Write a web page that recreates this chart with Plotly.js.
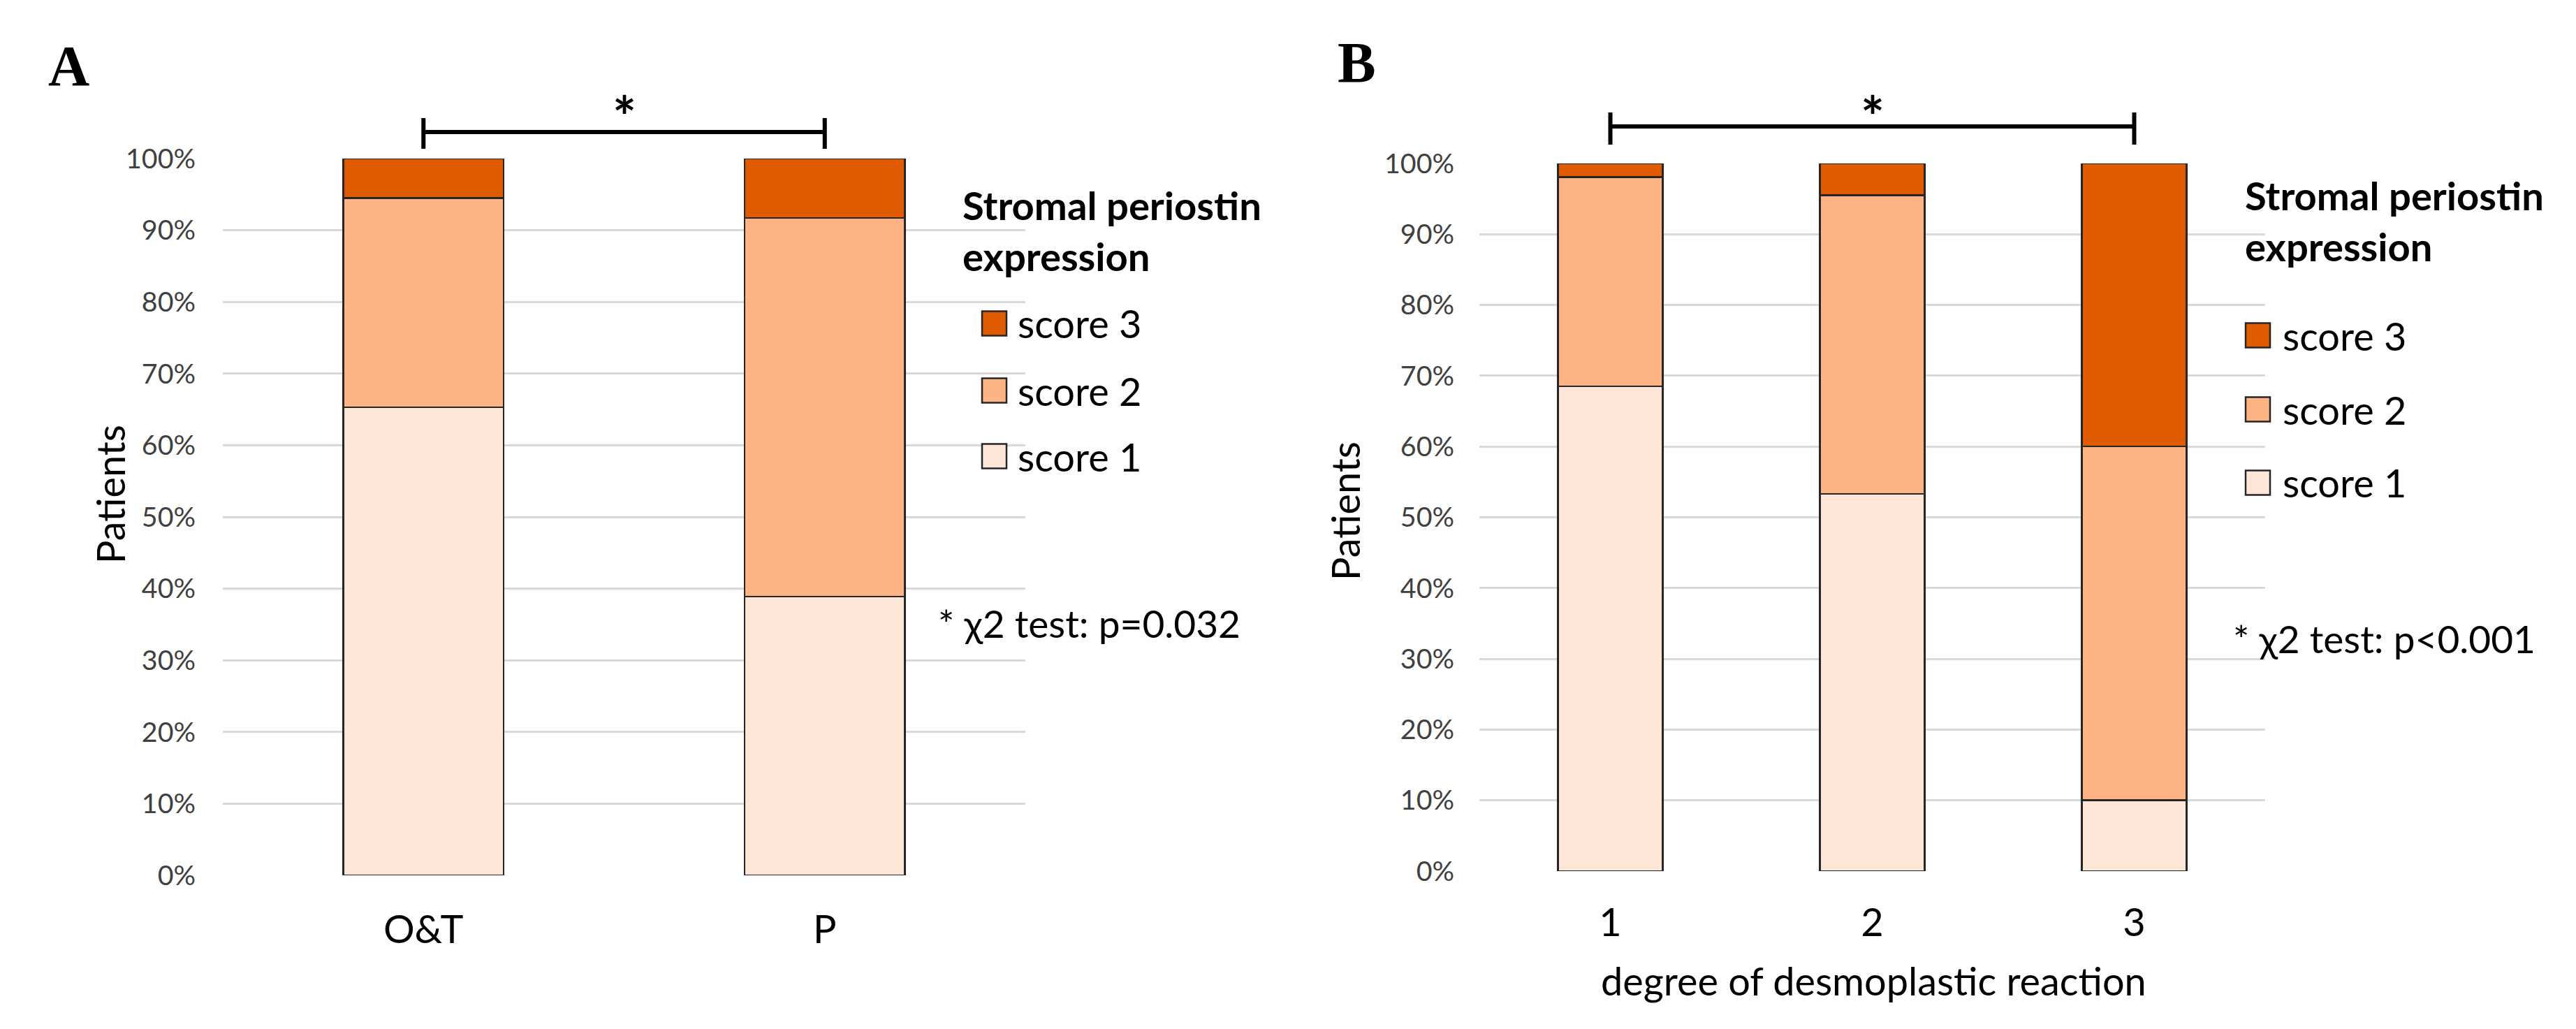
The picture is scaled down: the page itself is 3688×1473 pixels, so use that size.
<!DOCTYPE html>
<html>
<head>
<meta charset="utf-8">
<script src="https://cdn.plot.ly/plotly-3.0.1.min.js"></script>
<style>html,body{margin:0;padding:0;background:#fff;}#chart{width:3688px;height:1473px;}</style>
</head>
<body>
<div id="chart"></div>
<script>
// ---------------- data ----------------
const catsA = ['O&T', 'P'];
const catsB = ['1', '2', '3'];
const seriesNames = ['score 1', 'score 2', 'score 3'];
const score1A = [65.3, 38.9];
const score2A = [29.2, 52.8];
const score3A = [5.5, 8.3];
const score1B = [68.5, 53.3, 10.0];
const score2B = [29.6, 42.2, 50.0];
const score3B = [1.9, 4.5, 40.0];
const yTicks = [0, 10, 20, 30, 40, 50, 60, 70, 80, 90, 100];
const legendTitle = 'Stromal periostin<br>expression';
const pTextA = '* \u03C72 test: p=0.032';
const pTextB = '* \u03C72 test: p<0.001';
const yTitle = 'Patients';
const xTitleB = 'degree of desmoplastic reaction';

// ---------------- style ----------------
const seriesColors = ['#FDE6D7', '#FDB384', '#E05A00'];
const FONT = 'Lato, "Open Sans", sans-serif';
const W = 3688, H = 1473;
const X = p => p / W;
const Y = p => 1 - p / H;

const ctx = document.createElement('canvas').getContext('2d');
function fit(text, weight, target) {
  ctx.font = weight + ' 100px ' + FONT;
  return 100 * target / ctx.measureText(text).width;
}
const S = fit(xTitleB, 'normal', 782);
const SB = fit('Stromal periostin', 'bold', 428);
const T = fit('100%', 'normal', 100);
const SP = fit(pTextA, 'normal', 433);

const dataA = [score1A, score2A, score3A];
const dataB = [score1B, score2B, score3B];

const traces = [];
dataA.forEach((vals, i) => traces.push({
  type: 'bar', x: catsA, y: vals, name: seriesNames[i], xaxis: 'x', yaxis: 'y',
  marker: {color: seriesColors[i], line: {color: '#262626', width: 2.5}}, showlegend: false
}));
dataB.forEach((vals, i) => traces.push({
  type: 'bar', x: catsB, y: vals, name: seriesNames[i], xaxis: 'x2', yaxis: 'y2',
  marker: {color: seriesColors[i], line: {color: '#262626', width: 2.5}}, showlegend: false
}));

const yaxisBase = {
  range: [0, 100], tickvals: yTicks, ticktext: yTicks.map(v => v + '%'),
  showgrid: true, gridcolor: '#d9d9d9', gridwidth: 3, zeroline: false, showline: false,
  ticks: '', tickfont: {family: FONT, size: T, color: '#404040'}, fixedrange: true
};
const xaxisBase = {
  type: 'category', showgrid: false, zeroline: false, showline: false, ticks: '',
  tickfont: {family: FONT, size: S, color: '#000'}, fixedrange: true
};

const annotations = [];
const shapes = [];
function txt(text, x, y, size, opts) {
  annotations.push(Object.assign({
    text: text, x: X(x), y: Y(y), xref: 'paper', yref: 'paper', showarrow: false,
    xanchor: 'left', yanchor: 'middle', align: 'left',
    font: {family: FONT, size: size, color: '#000'}
  }, opts || {}));
}
// panel letters
txt('<b>A</b>', 67, 95, 82, {font: {family: '"Liberation Serif", "Times New Roman", serif', size: 82, color: '#000'}});
txt('<b>B</b>', 1913, 89, 82, {font: {family: '"Liberation Serif", "Times New Roman", serif', size: 82, color: '#000'}});
// y titles
txt(yTitle, 157, 708, S, {textangle: -90, xanchor: 'center'});
txt(yTitle, 1925, 732, S, {textangle: -90, xanchor: 'center'});
// x title B
txt(xTitleB, 2682, 1403, S, {xanchor: 'center'});
// p-values
txt(pTextA, 1341, 892, SP);
txt(pTextB, 3195, 914, SP);

// legends (manual)
function legend(titleX, titleY, swX, textX, ys) {
  txt('<b>' + legendTitle + '</b>', titleX, titleY, SB);
  for (let k = 0; k < 3; k++) {
    const i = 2 - k; // score 3 first
    const yc = ys[k];
    shapes.push({type: 'rect', xref: 'paper', yref: 'paper',
      x0: X(swX), x1: X(swX + 35), y0: Y(yc + 17.5), y1: Y(yc - 17.5),
      fillcolor: seriesColors[i], line: {color: '#262626', width: 2.5}});
    txt(seriesNames[i], textX, yc, S);
  }
}
legend(1376, 330, 1406, 1455, [463, 559, 653]);
legend(3212, 316, 3215, 3266, [480, 586, 691]);

// significance brackets (data x, paper y)
function bracket(xref, i0, i1, yLine, yTop, yBot, starY) {
  shapes.push({type: 'line', xref: xref, yref: 'paper', x0: i0, x1: i1, y0: Y(yLine), y1: Y(yLine), line: {color: '#000', width: 6}});
  shapes.push({type: 'line', xref: xref, yref: 'paper', x0: i0, x1: i0, y0: Y(yTop), y1: Y(yBot), line: {color: '#000', width: 6}});
  shapes.push({type: 'line', xref: xref, yref: 'paper', x0: i1, x1: i1, y0: Y(yTop), y1: Y(yBot), line: {color: '#000', width: 6}});
  annotations.push({text: '<b>*</b>', xref: xref, yref: 'paper', x: (i0 + i1) / 2, y: Y(starY),
    showarrow: false, xanchor: 'center', yanchor: 'middle', font: {family: FONT, size: 80, color: '#000'}});
}
bracket('x', 0, catsA.length - 1, 189, 169, 213, 166);
bracket('x2', 0, catsB.length - 1, 181, 161, 207, 166);

const layout = {
  width: W, height: H, margin: {l: 0, r: 0, t: 0, b: 0},
  paper_bgcolor: '#fff', plot_bgcolor: '#fff',
  barmode: 'stack', bargap: 0.6, showlegend: false, hovermode: false,
  font: {family: FONT, size: S, color: '#000'},
  xaxis: Object.assign({}, xaxisBase, {domain: [X(319), X(1468)], anchor: 'y', ticklabelstandoff: 40}),
  yaxis: Object.assign({}, yaxisBase, {domain: [Y(1253), Y(227)], anchor: 'x', ticklabelstandoff: 38}),
  xaxis2: Object.assign({}, xaxisBase, {domain: [X(2118), X(3243)], anchor: 'y2', ticklabelstandoff: 36}),
  yaxis2: Object.assign({}, yaxisBase, {domain: [Y(1247), Y(234)], anchor: 'x2', ticklabelstandoff: 35}),
  annotations: annotations, shapes: shapes
};

Plotly.newPlot('chart', traces, layout, {staticPlot: true, displayModeBar: false});
</script>
</body>
</html>
